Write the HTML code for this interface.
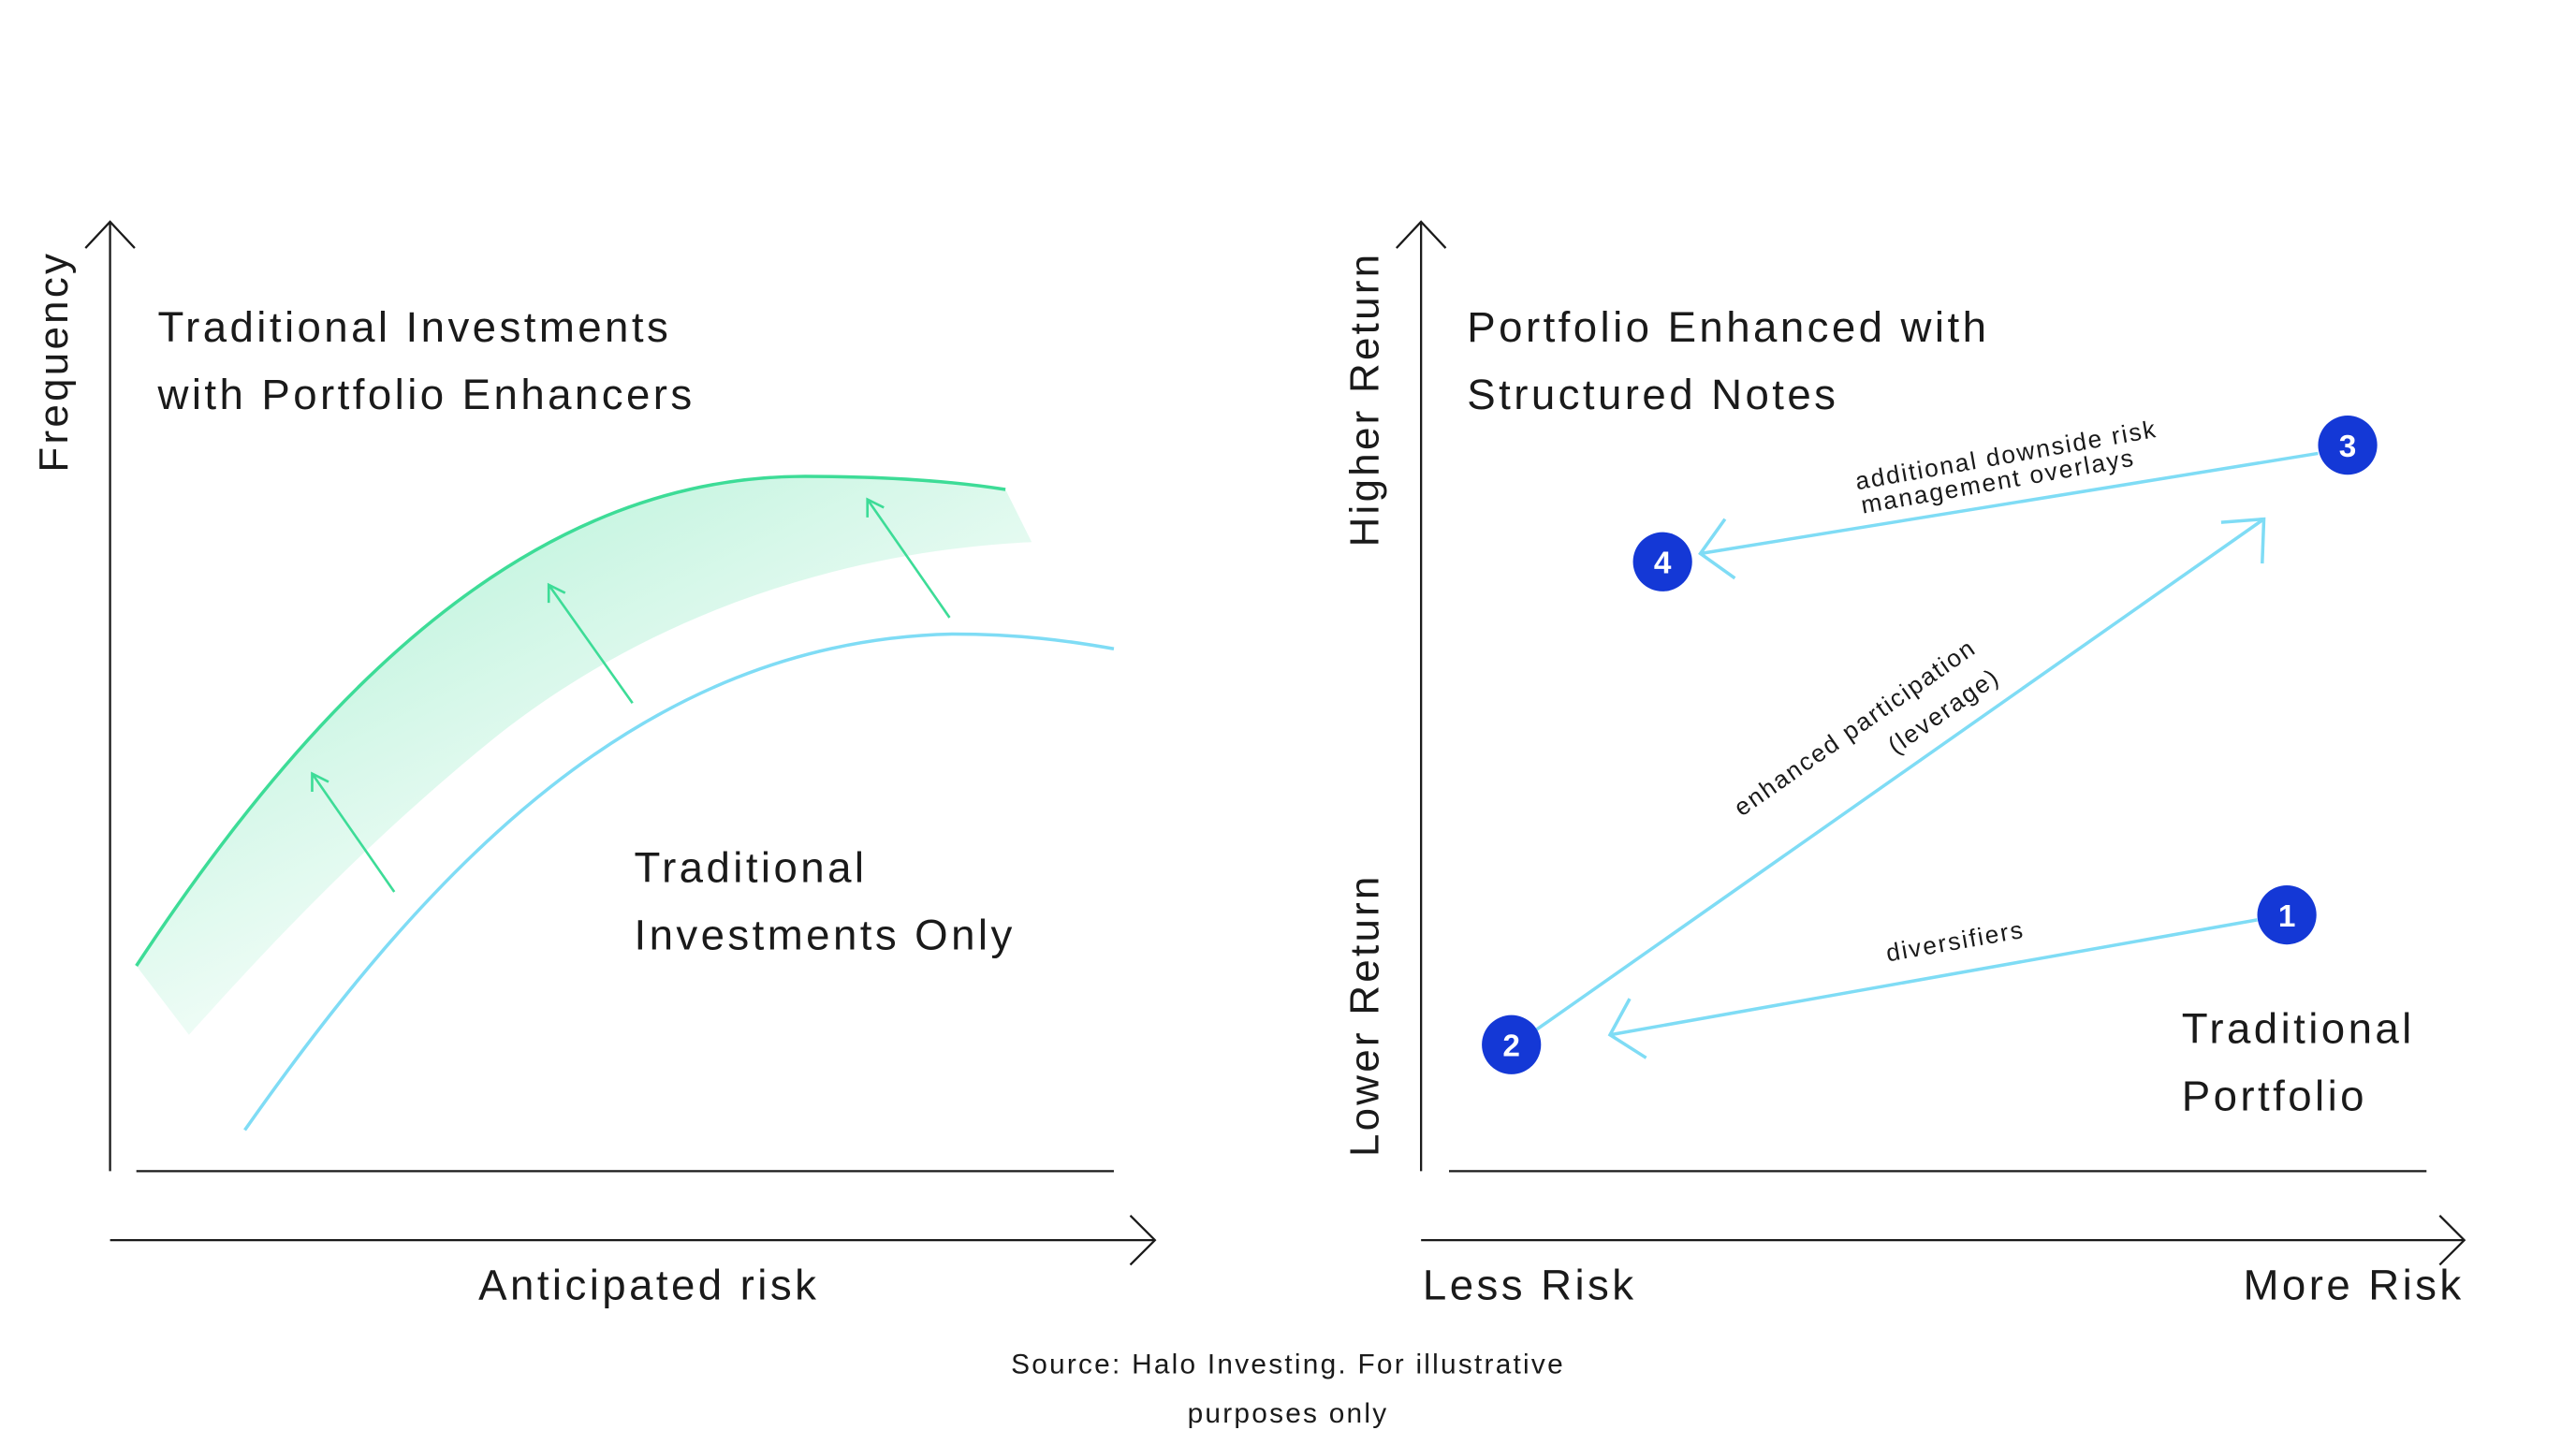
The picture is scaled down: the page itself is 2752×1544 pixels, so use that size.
<!DOCTYPE html>
<html><head><meta charset="utf-8"><style>
html,body{margin:0;padding:0;background:#fff}
svg{display:block}
text{font-family:"Liberation Sans",sans-serif;fill:#1a1a1a;letter-spacing:0.075em}
</style></head><body>
<svg width="2752" height="1544" viewBox="0 0 1568 879.7" xmlns="http://www.w3.org/2000/svg">
<defs>
<linearGradient id="g" x1="0.3" y1="0.1" x2="0.85" y2="0.8">
<stop offset="0" stop-color="#3ddc97" stop-opacity="0.32"/>
<stop offset="0.6" stop-color="#3ddc97" stop-opacity="0.1"/>
<stop offset="1" stop-color="#3ddc97" stop-opacity="0"/>
</linearGradient>
</defs>
<g stroke="#1a1a1a" stroke-width="1.3" fill="none">
<line x1="67" y1="136" x2="67" y2="713"/>
<polyline points="52,151 67,135 82,151"/>
<line x1="83" y1="713" x2="678" y2="713"/>
<line x1="67" y1="755" x2="703" y2="755"/>
<polyline points="688,740 703,755 688,770"/>
</g>
<text font-size="25" transform="translate(41,220) rotate(-90)" text-anchor="middle">Frequency</text>
<text x="96" y="208" font-size="26">Traditional Investments</text>
<text x="96" y="249" font-size="26">with Portfolio Enhancers</text>
<path d="M83,588 C200,410 330,290 490,290 C540,290 580,293 612,298 L628,330 C520,335 400,370 300,450 C220,515 160,580 115,630 Z" fill="url(#g)"/>
<path d="M83,588 C200,410 330,290 490,290 C540,290 580,293 612,298" stroke="#3ddc97" stroke-width="2" fill="none"/>
<path d="M149,688 C260,530 390,390 580,386 C620,386 650,390 678,395" stroke="#7fdcf5" stroke-width="2" fill="none"/>
<g stroke="#3ddc97" stroke-width="1.5" fill="none">
<line x1="240" y1="543" x2="190" y2="471"/><polyline points="190,482 190,471 200,476"/>
<line x1="385" y1="428" x2="334" y2="356"/><polyline points="334,367 334,356 344,361"/>
<line x1="578" y1="376" x2="528" y2="304"/><polyline points="528,315 528,304 538,309"/>
</g>
<text x="386" y="537" font-size="26">Traditional</text>
<text x="386" y="578" font-size="26">Investments Only</text>
<text x="395" y="791" font-size="26" text-anchor="middle">Anticipated risk</text>
<g stroke="#1a1a1a" stroke-width="1.3" fill="none">
<line x1="865" y1="136" x2="865" y2="713"/>
<polyline points="850,151 865,135 880,151"/>
<line x1="882" y1="713" x2="1477" y2="713"/>
<line x1="865" y1="755" x2="1500" y2="755"/>
<polyline points="1485,740 1500,755 1485,770"/>
</g>
<text font-size="25" transform="translate(839,243) rotate(-90)" text-anchor="middle">Higher Return</text>
<text font-size="25" transform="translate(839,618) rotate(-90)" text-anchor="middle">Lower Return</text>
<text x="893" y="208" font-size="26">Portfolio Enhanced with</text>
<text x="893" y="249" font-size="26">Structured Notes</text>
<g stroke="#7fdcf5" stroke-width="2" fill="none">
<line x1="1374" y1="560" x2="980" y2="630"/><polyline points="992,608 980,630 1002,644"/>
<line x1="935" y1="627" x2="1378" y2="316"/><polyline points="1352,318 1378,316 1377,343"/>
<line x1="1411" y1="276" x2="1035" y2="337"/><polyline points="1050,316 1035,337 1056,352"/>
</g>
<g font-size="15">
<text transform="translate(1191,578) rotate(-10)" text-anchor="middle">diversifiers</text>
<text transform="translate(1132,447) rotate(-35)" text-anchor="middle">enhanced participation</text>
<text transform="translate(1186,437) rotate(-35)" text-anchor="middle">(leverage)</text>
<text transform="translate(1222,282) rotate(-10)" text-anchor="middle">additional downside risk</text>
<text transform="translate(1217,298) rotate(-10)" text-anchor="middle">management overlays</text>
</g>
<g fill="#1438d6">
<circle cx="1392" cy="557" r="18"/><circle cx="920" cy="636" r="18"/>
<circle cx="1429" cy="271" r="18"/><circle cx="1012" cy="342" r="18"/>
</g>
<g font-size="19" font-weight="bold" text-anchor="middle">
<text x="1392" y="564" style="fill:#fff;letter-spacing:0">1</text><text x="920" y="643" style="fill:#fff;letter-spacing:0">2</text>
<text x="1429" y="278" style="fill:#fff;letter-spacing:0">3</text><text x="1012" y="349" style="fill:#fff;letter-spacing:0">4</text>
</g>
<text x="1328" y="635" font-size="26">Traditional</text>
<text x="1328" y="676" font-size="26">Portfolio</text>
<text x="866" y="791" font-size="26">Less Risk</text>
<text x="1500" y="791" font-size="26" text-anchor="end">More Risk</text>
<text x="784" y="836" font-size="17" text-anchor="middle">Source: Halo Investing. For illustrative</text>
<text x="784" y="866" font-size="17" text-anchor="middle">purposes only</text>
</svg>
</body></html>
